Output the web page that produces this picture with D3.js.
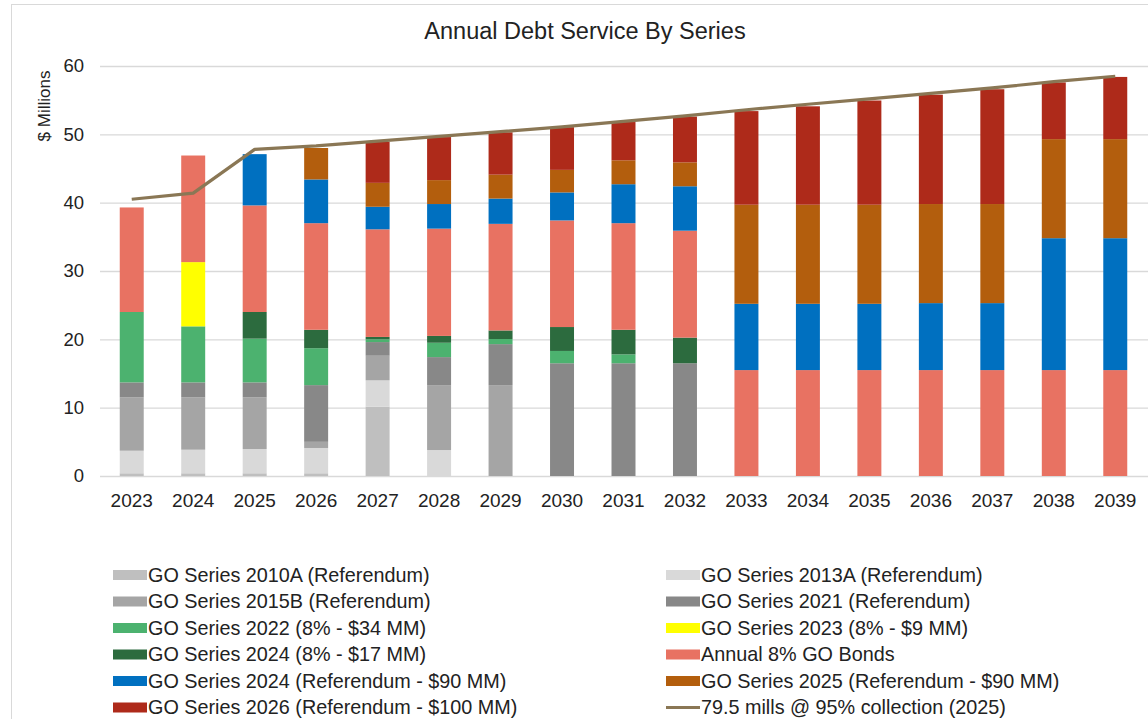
<!DOCTYPE html>
<html>
<head>
<meta charset="utf-8">
<script src="https://cdn.jsdelivr.net/npm/d3@7/dist/d3.min.js"></script>
<style>
  html, body { margin: 0; padding: 0; background: #fff; }
  svg { display: block; font-family: "Liberation Sans", Arial, sans-serif; }
</style>
</head>
<body>
<svg id="chart" width="1148" height="719"></svg>
<script>
const years = ["2023","2024","2025","2026","2027","2028","2029","2030","2031","2032","2033","2034","2035","2036","2037","2038","2039"];

const s2010A = [0.4, 0.4, 0.4, 0.4, 10.15, 0, 0, 0, 0, 0, 0, 0, 0, 0, 0, 0, 0];
const s2013A = [3.3, 3.45, 3.55, 3.7, 3.85, 3.8, 0, 0, 0, 0, 0, 0, 0, 0, 0, 0, 0];
const s2015B = [7.8, 7.65, 7.55, 0.9, 3.6, 9.5, 13.3, 0, 0, 0, 0, 0, 0, 0, 0, 0, 0];
const s2021 = [2.2, 2.2, 2.2, 8.3, 2.0, 4.1, 6.0, 16.5, 16.5, 16.5, 0, 0, 0, 0, 0, 0, 0];
const s2022 = [10.3, 8.2, 6.4, 5.4, 0.4, 2.1, 0.75, 1.8, 1.3, 0, 0, 0, 0, 0, 0, 0, 0];
const s2023 = [0, 9.4, 0, 0, 0, 0, 0, 0, 0, 0, 0, 0, 0, 0, 0, 0, 0];
const s2024_8 = [0, 0, 3.9, 2.7, 0.35, 1.0, 1.25, 3.5, 3.6, 3.75, 0, 0, 0, 0, 0, 0, 0];
const sAnnual8 = [15.3, 15.6, 15.6, 15.6, 15.75, 15.7, 15.6, 15.6, 15.6, 15.65, 15.5, 15.5, 15.5, 15.5, 15.5, 15.5, 15.5];
const s2024Ref = [0, 0, 7.5, 6.4, 3.3, 3.6, 3.7, 4.1, 5.7, 6.5, 9.7, 9.7, 9.7, 9.8, 9.8, 19.3, 19.3];
const s2025Ref = [0, 0, 0, 4.6, 3.5, 3.5, 3.5, 3.3, 3.5, 3.5, 14.5, 14.5, 14.5, 14.5, 14.5, 14.5, 14.5];
const s2026Ref = [0, 0, 0, 0, 6.0, 6.3, 6.2, 6.25, 5.6, 6.7, 13.7, 14.4, 15.25, 16.0, 16.8, 8.3, 9.1];
const millsLine = [40.5, 41.4, 47.8, 48.3, 49.0, 49.7, 50.4, 51.1, 51.9, 52.7, 53.6, 54.4, 55.2, 56.0, 56.8, 57.7, 58.5];

const yTicks = [0, 10, 20, 30, 40, 50, 60];

const seriesNames = [
  "GO Series 2010A (Referendum)",
  "GO Series 2013A (Referendum)",
  "GO Series 2015B (Referendum)",
  "GO Series 2021 (Referendum)",
  "GO Series 2022 (8% - $34 MM)",
  "GO Series 2023 (8% - $9 MM)",
  "GO Series 2024 (8% - $17 MM)",
  "Annual 8% GO Bonds",
  "GO Series 2024 (Referendum - $90 MM)",
  "GO Series 2025 (Referendum - $90 MM)",
  "GO Series 2026 (Referendum - $100 MM)"
];
const seriesValues = [s2010A, s2013A, s2015B, s2021, s2022, s2023, s2024_8, sAnnual8, s2024Ref, s2025Ref, s2026Ref];
const seriesColors = ["#bfbfbf", "#d9d9d9", "#a5a5a5", "#888888", "#4cb26f", "#ffff00", "#2c6b3e", "#e87262", "#0070c0", "#b35e0d", "#ae2a1a"];
const lineName = "79.5 mills @ 95% collection (2025)";
const lineColor = "#8a7755";

const svg = d3.select("#chart");
const W = 1148, H = 719;
const plot = { left: 101, right: 1146, top: 66, bottom: 476 };

// outer border
svg.append("rect").attr("x", 11.5).attr("y", 4.5).attr("width", W + 20).attr("height", H + 20)
  .attr("fill", "none").attr("stroke", "#d9d9d9").attr("stroke-width", 1);

const x = d3.scaleBand().domain(years).range([plot.left, plot.right]).paddingInner(0.61).paddingOuter(0.305);
const y = d3.scaleLinear().domain([0, 60]).range([plot.bottom, plot.top]);

// gridlines
svg.append("g").selectAll("line").data(yTicks).join("line")
  .attr("x1", 100).attr("x2", W).attr("y1", d => y(d) + 0.5).attr("y2", d => y(d) + 0.5)
  .attr("stroke", "#d9d9d9").attr("stroke-width", 1.3);

// y tick labels
svg.append("g").selectAll("text").data(yTicks).join("text")
  .attr("x", 84).attr("y", d => y(d)).attr("dy", "0.35em")
  .attr("text-anchor", "end").attr("font-size", 18.5).attr("fill", "#222")
  .text(d => d);

// y axis title
svg.append("text").attr("transform", `translate(50,106) rotate(-90)`)
  .attr("text-anchor", "middle").attr("font-size", 17).attr("fill", "#222")
  .text("$ Millions");

// title
svg.append("text").attr("x", 585).attr("y", 39).attr("text-anchor", "middle")
  .attr("font-size", 23.5).attr("fill", "#222").text("Annual Debt Service By Series");

// stacked data
const table = years.map((yr, i) => {
  const row = { year: yr };
  seriesNames.forEach((n, k) => row[n] = seriesValues[k][i]);
  return row;
});
const stack = d3.stack().keys(seriesNames)(table);

svg.append("g").selectAll("g").data(stack).join("g")
  .attr("fill", (d, k) => seriesColors[k])
  .selectAll("rect").data(d => d).join("rect")
  .attr("x", d => x(d.data.year))
  .attr("width", x.bandwidth())
  .attr("y", d => y(d[1]))
  .attr("height", d => Math.max(0, y(d[0]) - y(d[1])));

// x tick labels
svg.append("g").selectAll("text").data(years).join("text")
  .attr("x", d => x(d) + x.bandwidth() / 2).attr("y", 507)
  .attr("text-anchor", "middle").attr("font-size", 19).attr("fill", "#222")
  .text(d => d);

// line
const line = d3.line().x((d, i) => x(years[i]) + x.bandwidth() / 2).y(d => y(d));
svg.append("path").datum(millsLine).attr("d", line)
  .attr("fill", "none").attr("stroke", lineColor).attr("stroke-width", 3.2).attr("stroke-linejoin", "round");

// legend
const legendItems = seriesNames.map((n, k) => ({ name: n, color: seriesColors[k], type: "rect" }));
legendItems.push({ name: lineName, color: lineColor, type: "line" });
const rowY = [575, 601.5, 628, 654.5, 681, 707.5];
const colX = [113, 666];
const lg = svg.append("g").selectAll("g").data(legendItems).join("g")
  .attr("transform", (d, i) => `translate(${colX[i % 2]},${rowY[Math.floor(i / 2)]})`);
lg.each(function(d) {
  const g = d3.select(this);
  if (d.type === "rect") {
    g.append("rect").attr("x", 0).attr("y", -5).attr("width", 34).attr("height", 10).attr("fill", d.color);
  } else {
    g.append("line").attr("x1", 0).attr("x2", 34).attr("y1", 0).attr("y2", 0)
      .attr("stroke", d.color).attr("stroke-width", 3.2);
  }
  g.append("text").attr("x", 35).attr("y", 0).attr("dy", "0.35em")
    .attr("font-size", 19.8).attr("fill", "#222").text(d.name);
});
</script>
</body>
</html>
